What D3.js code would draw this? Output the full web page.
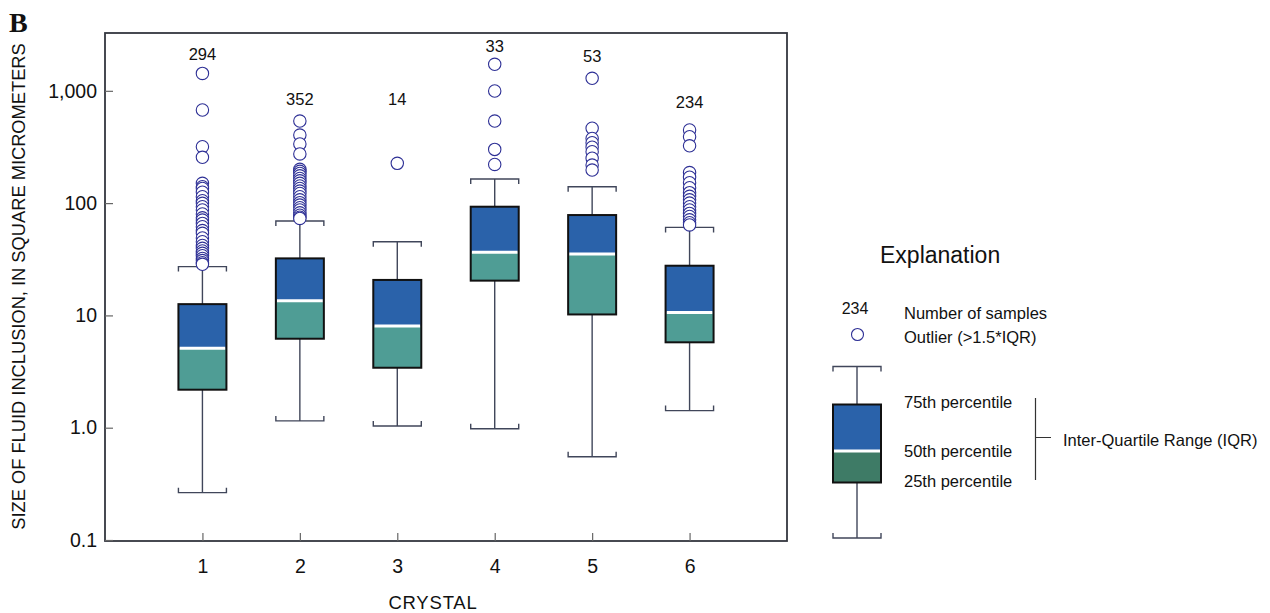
<!DOCTYPE html>
<html>
<head>
<meta charset="utf-8">
<script src="https://cdn.jsdelivr.net/npm/d3@7"></script>
<style>
  html, body { margin: 0; padding: 0; background: #fff; }
  svg { display: block; font-family: "Liberation Sans", Arial, sans-serif; }
</style>
</head>
<body>
<svg id="chart" width="1270" height="613"></svg>
<script>
// ---------- DATA ----------
const crystals = ["1", "2", "3", "4", "5", "6"];
const sampleCounts = [294, 352, 14, 33, 53, 234];
const q1Values = [2.18, 6.2, 3.42, 20.4, 10.2, 5.76];
const medianValues = [5.1, 13.5, 8.05, 36.5, 35.2, 10.6];
const q3Values = [12.6, 32.2, 20.7, 92.9, 78.3, 27.7];
const whiskerLow = [0.264, 1.15, 1.035, 0.98, 0.552, 1.42];
const whiskerHigh = [27.2, 69.3, 45.3, 164, 140, 60.8];
const outliers1 = [1430, 675, 318, 256, 150, 140, 135, 125, 114, 105, 99.6, 93, 86.8, 80, 74, 70.7, 66, 61.6, 57, 53.8, 49, 45.3, 42, 39.6, 37.5, 35.7, 34, 32.2, 30.8, 29.5, 28.5];
const outliers2 = [538, 404, 336, 274, 200, 192, 184, 175, 166, 158, 150, 142, 135, 128, 122, 114, 107, 101, 96, 91, 87, 82, 78, 75, 73];
const outliers3 = [226];
const outliers4 = [1722, 996, 538, 301, 221];
const outliers5 = [1292, 464, 377, 345, 315, 287, 251, 218, 197];
const outliers6 = [448, 390, 324, 187, 170, 152, 137, 124, 115, 107, 100, 93, 87, 81, 76, 71, 67, 64];
const outlierValues = [outliers1, outliers2, outliers3, outliers4, outliers5, outliers6];
// level (in square micrometers) at which each sample-count label is centred
const countLabelLevel = [2128, 845, 845, 2506, 2013, 784];
const yTickValues = [0.1, 1, 10, 100, 1000];
const yTickLabels = ["0.1", "1.0", "10", "100", "1,000"];
const legendLabels = ["75th percentile", "50th percentile", "25th percentile"];

// ---------- LAYOUT ----------
const svg = d3.select("#chart");
const plot = { left: 105, top: 33, right: 787, bottom: 541 };

const x = d3.scaleLinear().domain([0, 7]).range([plot.left, plot.right]);
const y = d3.scaleLog().domain([0.1, 3273]).range([540, plot.top]);

const colBlue = "#2a62aa";
const colTeal = "#4f9d95";
const colLegendGreen = "#3e7b66";
const colOutline = "#2d2f95";
const colWhisker = "#40465a";
const boxW = 48;

// frame
svg.append("rect")
  .attr("x", plot.left).attr("y", plot.top)
  .attr("width", plot.right - plot.left).attr("height", plot.bottom - plot.top)
  .attr("fill", "none").attr("stroke", "#33373f").attr("stroke-width", 1.8);

// y axis ticks (inward) and labels
const yAxis = d3.axisLeft(y).tickValues(yTickValues)
  .tickFormat((d, i) => yTickLabels[i]).tickSizeInner(-8).tickSizeOuter(0).tickPadding(8);
const gy = svg.append("g").attr("transform", `translate(${plot.left},0)`).call(yAxis);
gy.select(".domain").remove();
gy.selectAll(".tick line").attr("stroke", "#666").attr("stroke-width", 1.2);
gy.selectAll(".tick text").attr("font-size", 19.5).attr("fill", "#111")
  .attr("font-family", "'Liberation Sans', Arial, sans-serif");

// x axis ticks (inward) and labels
const xAxis = d3.axisBottom(x).tickValues(d3.range(1, 7))
  .tickFormat((d) => crystals[d - 1]).tickSizeInner(-8).tickSizeOuter(0).tickPadding(18);
const gx = svg.append("g").attr("transform", `translate(0,${plot.bottom})`).call(xAxis);
gx.select(".domain").remove();
gx.selectAll(".tick line").attr("stroke", "#666").attr("stroke-width", 1.2);
gx.selectAll(".tick text").attr("font-size", 19.5).attr("fill", "#111")
  .attr("font-family", "'Liberation Sans', Arial, sans-serif");

// axis titles
svg.append("text")
  .attr("transform", "translate(25,286.5) rotate(-90)")
  .attr("text-anchor", "middle").attr("font-size", 18.3).attr("fill", "#111")
  .text("SIZE OF FLUID INCLUSION, IN SQUARE MICROMETERS");
svg.append("text")
  .attr("x", 433).attr("y", 609).attr("text-anchor", "middle")
  .attr("font-size", 18.5).attr("letter-spacing", 0.8).attr("fill", "#111").text("CRYSTAL");

// panel letter
svg.append("text")
  .attr("x", 9).attr("y", 32)
  .attr("font-family", "'Liberation Serif', 'Times New Roman', serif")
  .attr("font-weight", "bold").attr("font-size", 28).attr("fill", "#111").text("B");

// ---------- BOX PLOT DRAWING ----------
function drawWhisker(g, cx, yEnd, yBox, capDir) {
  g.append("line").attr("x1", cx).attr("x2", cx).attr("y1", yBox).attr("y2", yEnd)
    .attr("stroke", colWhisker).attr("stroke-width", 1.4);
  g.append("path")
    .attr("d", `M${cx - boxW / 2},${yEnd + capDir * 5}V${yEnd}H${cx + boxW / 2}V${yEnd + capDir * 5}`)
    .attr("fill", "none").attr("stroke", colWhisker).attr("stroke-width", 1.4);
}
function drawBox(g, cx, q1, med, q3, lowerFill) {
  g.append("rect").attr("x", cx - boxW / 2).attr("y", med).attr("width", boxW)
    .attr("height", q1 - med).attr("fill", lowerFill);
  g.append("rect").attr("x", cx - boxW / 2).attr("y", q3).attr("width", boxW)
    .attr("height", med - q3).attr("fill", colBlue);
  g.append("line").attr("x1", cx - boxW / 2 + 1).attr("x2", cx + boxW / 2 - 1)
    .attr("y1", med).attr("y2", med).attr("stroke", "#fff").attr("stroke-width", 3);
  g.append("rect").attr("x", cx - boxW / 2).attr("y", q3).attr("width", boxW)
    .attr("height", q1 - q3).attr("fill", "none").attr("stroke", "#111").attr("stroke-width", 2);
}

const boxes = svg.append("g");
crystals.forEach((c, i) => {
  const cx = x(i + 1);
  const g = boxes.append("g");
  drawWhisker(g, cx, y(whiskerHigh[i]), y(q3Values[i]), 1);
  drawWhisker(g, cx, y(whiskerLow[i]), y(q1Values[i]), -1);
  drawBox(g, cx, y(q1Values[i]), y(medianValues[i]), y(q3Values[i]), colTeal);
  g.selectAll("circle.out").data(outlierValues[i]).join("circle")
    .attr("class", "out")
    .attr("cx", cx).attr("cy", (d) => y(d)).attr("r", 6.2)
    .attr("fill", "#fff").attr("stroke", colOutline).attr("stroke-width", 1.1);
  g.append("text").attr("x", cx).attr("y", y(countLabelLevel[i]))
    .attr("dy", "0.35em").attr("text-anchor", "middle").attr("font-size", 16.5).attr("fill", "#111")
    .text(sampleCounts[i]);
});

// ---------- LEGEND ----------
const lg = svg.append("g");
lg.append("text").attr("x", 880).attr("y", 263).attr("font-size", 23).attr("fill", "#111").text("Explanation");
lg.append("text").attr("x", 855).attr("y", 308).attr("dy", "0.35em").attr("text-anchor", "middle")
  .attr("font-size", 16).attr("fill", "#111").text("234");
lg.append("text").attr("x", 904).attr("y", 319).attr("font-size", 16.5).attr("fill", "#111").text("Number of samples");
lg.append("circle").attr("cx", 857.5).attr("cy", 334.5).attr("r", 6)
  .attr("fill", "#fff").attr("stroke", colOutline).attr("stroke-width", 1.1);
lg.append("text").attr("x", 904).attr("y", 343).attr("font-size", 16.5).attr("fill", "#111").text("Outlier (>1.5*IQR)");

// legend box glyph (fixed, schematic)
const lcx = 857;
const lgBox = lg.append("g");
drawWhisker(lgBox, lcx, 366.5, 404.5, 1);
drawWhisker(lgBox, lcx, 538, 482.5, -1);
drawBox(lgBox, lcx, 482.5, 451, 404.5, colLegendGreen);

const labelY = [408, 457, 487];
legendLabels.forEach((t, i) => {
  lg.append("text").attr("x", 904).attr("y", labelY[i]).attr("font-size", 16.5).attr("fill", "#111").text(t);
});
lg.append("path").attr("d", "M1035.5,398V480M1035.5,437.5H1051")
  .attr("fill", "none").attr("stroke", "#333").attr("stroke-width", 1.2);
lg.append("text").attr("x", 1063).attr("y", 446).attr("font-size", 16.5).attr("fill", "#111")
  .text("Inter-Quartile Range (IQR)");
</script>
</body>
</html>
